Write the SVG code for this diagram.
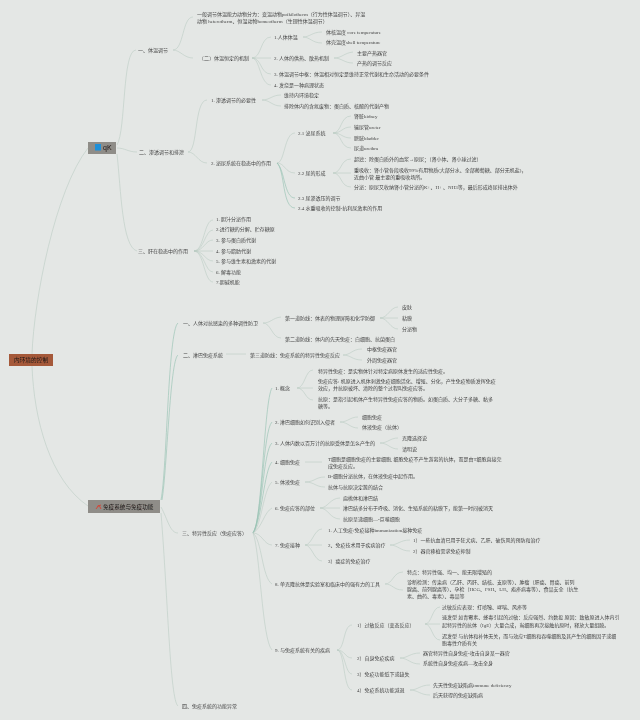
<svg xmlns="http://www.w3.org/2000/svg" width="640" height="720" viewBox="0 0 640 720">
<style>
text{font-family:"Liberation Serif","Noto Sans CJK SC",serif;font-size:5px;fill:#454545;dominant-baseline:central;filter:url(#b)}
.r{font-family:"Liberation Sans","Noto Sans CJK SC",sans-serif;font-size:7px;fill:#1c1614}
.k{fill:none;stroke:#b8c9c1;stroke-width:.55}
.t{fill:none;stroke:#98c2b3;stroke-width:.65}
</style>
<defs><filter id="b" x="-5%" y="-40%" width="110%" height="180%"><feGaussianBlur stdDeviation="0.3"/></filter></defs>
<rect width="640" height="720" fill="#e4e7e5"/>
<g id="connectors">
<path class="k" d="M32,354C34,300 55,190 88,148M32,366C34,420 50,480 88,506"/>
<path class="k" d="M117,145C126,130 122,50 136,50M117,148C125,148 128,152 137,152M117,154C121,190 122,247 137,251"/>
<path class="k" d="M173,50C184,50 182,17 193,17M173,50C180,50 184,58 193,58M252,58C262,58 260,37 271,37M252,58H271M252,58C262,58 260,74 271,74M252,58C260,58 260,85 271,85M303,37C310,37 312,32 322,32M303,37C310,37 312,43 322,43M334,58C342,58 344,53 353,52M334,58C342,58 344,63 353,63"/>
<path class="k" d="M188,152C198,152 194,100 207,100M188,152C196,152 198,163 207,163M262,100C270,100 272,95 281,95M262,100C270,100 272,106 281,106"/>
<path class="k" d="M277,163C285,163 284,133 295,133M277,163C285,163 285,173 295,173M333,133C342,133 340,116 351,116M333,133C342,133 342,127 351,127M333,133C342,133 342,138 351,138M333,133C342,133 340,148 351,148M333,173C342,173 340,159 351,159M333,173H351M333,173C342,173 340,187 351,187"/>
<path class="t" d="M277,163C285,170 284,198 295,198M277,163C285,170 282,208 295,208"/>
<path class="k" d="M194,251C204,251 204,220 213,220M194,251C204,251 205,230 213,230M194,251C204,251 205,240 213,240M194,251H213M194,251C204,251 205,261 213,261M194,251C204,251 205,272 213,272M194,251C204,251 204,282 213,282"/>
<path class="t" d="M161,500C167,470 168,330 178,323M162,500C167,470 170,360 178,355"/>
<path class="k" d="M161,507C168,520 170,533 178,533M161,513C168,600 170,700 178,706"/>
<path class="k" d="M263,323C271,323 272,318 281,317M263,323C271,323 272,338 281,338M380,318C388,318 390,307 398,307M380,318H398M380,318C388,318 390,329 398,329M226,354H246M343,355C351,355 352,349 362,349M343,355C351,355 352,360 362,360"/>
<path class="t" d="M253,533C262,525 264,400 272,388M253,533C262,520 263,430 272,422M253,533C262,520 263,450 272,443M253,533C262,520 264,470 272,462"/>
<path class="k" d="M253,533C262,525 263,490 272,482M253,533C262,528 264,512 272,508M253,533C262,533 264,545 272,545M253,533C262,540 262,578 272,584M253,533C260,550 262,640 272,650"/>
<path class="k" d="M297,388C305,388 305,370 313,370M297,388H313M297,388C305,388 305,400 313,400M340,422C348,422 350,417 358,417M340,422C348,422 350,428 358,428M380,443C388,443 390,438 398,438M380,443C388,443 390,449 398,449M305,462H322M305,482C315,482 315,477 325,477M305,482C315,482 315,487 325,487M320,508C328,508 330,498 340,498M320,508H340M320,508C328,508 330,519 340,519"/>
<path class="k" d="M305,545C312,545 314,529 322,529M305,545H322M305,545C312,545 314,561 322,561M390,545C398,545 400,540 410,540M390,545C398,545 400,551 410,551M385,584C393,584 393,572 403,572M385,584C393,584 393,590 403,590"/>
<path class="k" d="M337,650C345,650 343,625 352,625M337,650C345,650 345,658 352,658M337,650C345,650 345,674 352,674M337,650C345,650 343,690 352,690M425,624C432,624 432,607 440,607M425,624H440M425,624C432,624 432,640 440,640M400,658C408,658 410,653 420,653M400,658C408,658 410,664 420,664M410,690C418,690 420,685 430,685M410,690C418,690 420,695 430,695"/>
</g>
<g id="root"><rect x="9" y="354" width="44" height="12" fill="#a5593a"/><text class="r" x="14" y="360" style="font-size:5.7px">内环境的控制</text></g>
<g id="b1"><rect x="88" y="142" width="28" height="12" fill="#8f8d88"/><rect x="95" y="144" width="6" height="6.5" fill="#1e90d8"/><text class="r" x="103" y="147.5">qK</text></g>
<g id="b2"><rect x="88" y="500" width="72" height="13" fill="#8f8d88"/><path d="M96,509L99,505L101,509M97,506.5L101,505" fill="none" stroke="#d04a3c" stroke-width="1"/><text class="r" x="103" y="506.5" style="font-size:5.6px">免疫系统与免疫功能</text></g>
<g id="a1"><text x="138" y="50">一、体温调节</text></g>
<g id="a2"><text x="197" y="14.5">一般调节体温能力动物分为：变温动物poikilotherm（行为性体温调节）、异温</text><text x="197" y="21.5">动物 heterotherm、恒温动物homeotherm（生理性体温调节）</text></g>
<g id="a3"><text x="199" y="58">〔二〕体温恒定的机制</text></g>
<g id="a4"><text x="274" y="37">1.人体体温</text></g>
<g id="a5"><text x="274" y="58">2. 人体的供热、散热机制</text></g>
<g id="a6"><text x="274" y="74.5">3. 体温调节中枢：体温相对恒定是维持正常代谢和生命活动的必要条件</text></g>
<g id="a7"><text x="274" y="85">4. 发烧是一种病理状态</text></g>
<g id="a8"><text x="326" y="32">体核温度 core temperature</text></g>
<g id="a9"><text x="326" y="42.5">体壳温度shell temperature</text></g>
<g id="a10"><text x="357" y="53">主要产热器官</text></g>
<g id="a11"><text x="357" y="63.5">产热的调节反应</text></g>
<g id="c1"><text x="139" y="152">二、渗透调节和排泄</text></g>
<g id="c2"><text x="211" y="100.5">1. 渗透调节的必要性</text></g>
<g id="c3"><text x="284" y="95.5">维持内环境稳定</text></g>
<g id="c4"><text x="284" y="106">排除体内的含氮废物：蛋白质、核酸的代谢产物</text></g>
<g id="c5"><text x="211" y="163">2. 泌尿系统在稳态中的作用</text></g>
<g id="c6"><text x="298" y="133">2.1 泌尿系统</text></g>
<g id="c7"><text x="354" y="116.5">肾脏kidney</text></g>
<g id="c8"><text x="354" y="127.5">输尿管ureter</text></g>
<g id="c9"><text x="354" y="138">膀胱bladder</text></g>
<g id="c10"><text x="354" y="148.5">尿道urethra</text></g>
<g id="c11"><text x="298" y="173">2.2 尿的形成</text></g>
<g id="c12"><text x="354" y="159">超滤：除蛋白质外的血浆→原尿；（肾小体、肾小球过滤）</text></g>
<g id="c13"><text x="354" y="170">重吸收：肾小管各段吸收99%有用物质(大部分水、全部葡萄糖、部分无机盐)，</text><text x="354" y="177">近曲小管 最主要的重吸收场所。</text></g>
<g id="c14"><text x="354" y="187.5">分泌：原尿又收纳肾小管分泌的K+、H+ 、NH3等，最后形成终尿排出体外</text></g>
<g id="c15"><text x="298" y="198">2.3 尿渗透压的调节</text></g>
<g id="c16"><text x="298" y="208.5">2.4 水重吸收的控制-抗利尿激素的作用</text></g>
<g id="d1"><text x="138" y="251">三、肝在稳态中的作用</text></g>
<g id="d2"><text x="216" y="219.5">1. 胆汁分泌作用</text></g>
<g id="d3"><text x="216" y="229.5">2.进行糖的分解、贮存糖原</text></g>
<g id="d4"><text x="216" y="240">3. 参与蛋白质代谢</text></g>
<g id="d5"><text x="216" y="251">4. 参与脂肪代谢</text></g>
<g id="d6"><text x="216" y="261">5. 参与维生素和激素的代谢</text></g>
<g id="d7"><text x="216" y="272">6. 解毒功能</text></g>
<g id="d8"><text x="216" y="282">7.胆碱机能</text></g>
<g id="e1"><text x="183" y="323">一、人体对抗感染的多种调性防卫</text></g>
<g id="e2"><text x="285" y="318">第一道防线：体表的物理屏障和化学防御</text></g>
<g id="e3"><text x="402" y="307.5">皮肤</text></g>
<g id="e4"><text x="402" y="318">粘膜</text></g>
<g id="e5"><text x="402" y="329">分泌物</text></g>
<g id="e6"><text x="285" y="339">第二道防线：体内的先天免疫：白细胞、抗菌蛋白</text></g>
<g id="f1"><text x="183" y="355">二、淋巴免疫系统</text></g>
<g id="f2"><text x="250" y="355">第三道防线：免疫系统的特异性免疫反应</text></g>
<g id="f3"><text x="367" y="349.5">中枢免疫器官</text></g>
<g id="f4"><text x="367" y="360">外周免疫器官</text></g>
<g id="g0"><text x="182" y="533">三、特异性反应（免疫应答）</text></g>
<g id="g1"><text x="275" y="388.5">1. 概念</text></g>
<g id="g2"><text x="318" y="371">特异性免疫：是实物体针对特定病原体发生的适应性免疫。</text></g>
<g id="g3"><text x="318" y="381.5">免疫应答: 机原进入机体刺激免疫细胞活化、增殖、分化，产生免疫物质发挥免疫</text><text x="318" y="388.5">效应，并抗原被坏、清除的整个过程叫免疫应答。</text></g>
<g id="g4"><text x="318" y="399">抗原：是指引起机体产生特异性免疫应答的物质。如蛋白质、大分子多糖、黏多</text><text x="318" y="406.5">糖等。</text></g>
<g id="g5"><text x="275" y="422">2. 淋巴细胞如何识别入侵者</text></g>
<g id="g6"><text x="362" y="417">细胞免疫</text></g>
<g id="g7"><text x="362" y="427.5">体液免疫（抗体）</text></g>
<g id="g8"><text x="275" y="443">3. 人体内数以百万计的抗原受体是怎么产生的</text></g>
<g id="g9"><text x="402" y="438">克隆选择说</text></g>
<g id="g10"><text x="402" y="449">请明说</text></g>
<g id="g11"><text x="275" y="462">4. 细胞免疫</text></g>
<g id="g12"><text x="328" y="459">T细胞是细胞免疫的主要细胞, 细胞免疫不产生游离的抗体，而是由T细胞直接完</text><text x="328" y="466">成免疫反应。</text></g>
<g id="g13"><text x="275" y="482">5. 体液免疫</text></g>
<g id="g14"><text x="328" y="476.5">B-细胞分泌抗体，在体液免疫中起作用。</text></g>
<g id="g15"><text x="328" y="487">抗体与抗原决定簇的结合</text></g>
<g id="g16"><text x="275" y="508">6. 免疫应答的部位</text></g>
<g id="g17"><text x="343" y="498">扁桃体和淋巴结</text></g>
<g id="g18"><text x="343" y="508.5">淋巴结多分布于呼吸、消化、生殖系统的粘膜下，能第一时间被消灭</text></g>
<g id="g19"><text x="343" y="519">抗原呈递细胞—-巨噬细胞</text></g>
<g id="g20"><text x="275" y="545">7. 免疫接种</text></g>
<g id="g21"><text x="328" y="530">1. 人工免疫/免疫接种immunization接种免疫</text></g>
<g id="g22"><text x="328" y="545">2、免疫技术用于疾病治疗</text></g>
<g id="g23"><text x="413" y="540.5">1）一些抗血清已用于狂犬病、乙肝、破伤风的预防和治疗</text></g>
<g id="g24"><text x="413" y="551">2）器官移植需求免疫抑制</text></g>
<g id="g25"><text x="328" y="561.5">3）癌症的免疫治疗</text></g>
<g id="g26"><text x="275" y="584.5">8. 单克隆抗体是实验室和临床中的强有力的工具</text></g>
<g id="g27"><text x="407" y="572">特点：特异性强、均一、能无限增殖的</text></g>
<g id="g28"><text x="407" y="582">诊断检测：传染病（乙肝、丙肝、结核、支原等）、肿瘤（肝癌、胃癌、前列</text><text x="407" y="589">腺癌、前列腺癌等）、孕检（HCG、FSH、LH、疱疹病毒等）、食品安全（抗生</text><text x="407" y="596.5">素、曲药、毒素）、毒品等</text></g>
<g id="g29"><text x="275" y="650">9. 与免疫系统有关的疾病</text></g>
<g id="g30"><text x="357" y="625">1）过敏反应（变态反应）</text></g>
<g id="g31"><text x="442" y="607">过敏反应表现：打喷嚏、哮喘、风疹等</text></g>
<g id="g32"><text x="442" y="617.5">速发型 如青霉素、蜂毒引起的过敏：反应强烈、约数投 原因：致敏原进入体内引</text><text x="442" y="625">起特异性的抗体（IgE）大量合成，当细胞再次接触抗原时，释放大量组胺。</text></g>
<g id="g33"><text x="442" y="636">迟发型 与抗体和补体无关，而与效应T细胞和吞噬细胞及其产生的细胞因子或细</text><text x="442" y="643">胞毒性介质有关</text></g>
<g id="g34"><text x="357" y="658.5">2）自身免疫疾病</text></g>
<g id="g35"><text x="423" y="653">器官特异性自身免疫-攻击自身某一器官</text></g>
<g id="g36"><text x="423" y="663.5">系统性自身免疫疾病—攻击全身</text></g>
<g id="g37"><text x="357" y="674.5">3）免疫功能低下或缺失</text></g>
<g id="g38"><text x="357" y="690">4）免疫系统功能减退</text></g>
<g id="g39"><text x="433" y="685">先天性免疫缺陷病immune deficiency</text></g>
<g id="g40"><text x="433" y="695.5">后天获得的免疫缺陷病</text></g>
<g id="h1"><text x="182" y="706">四、免疫系统的功能异常</text></g>
</svg>
